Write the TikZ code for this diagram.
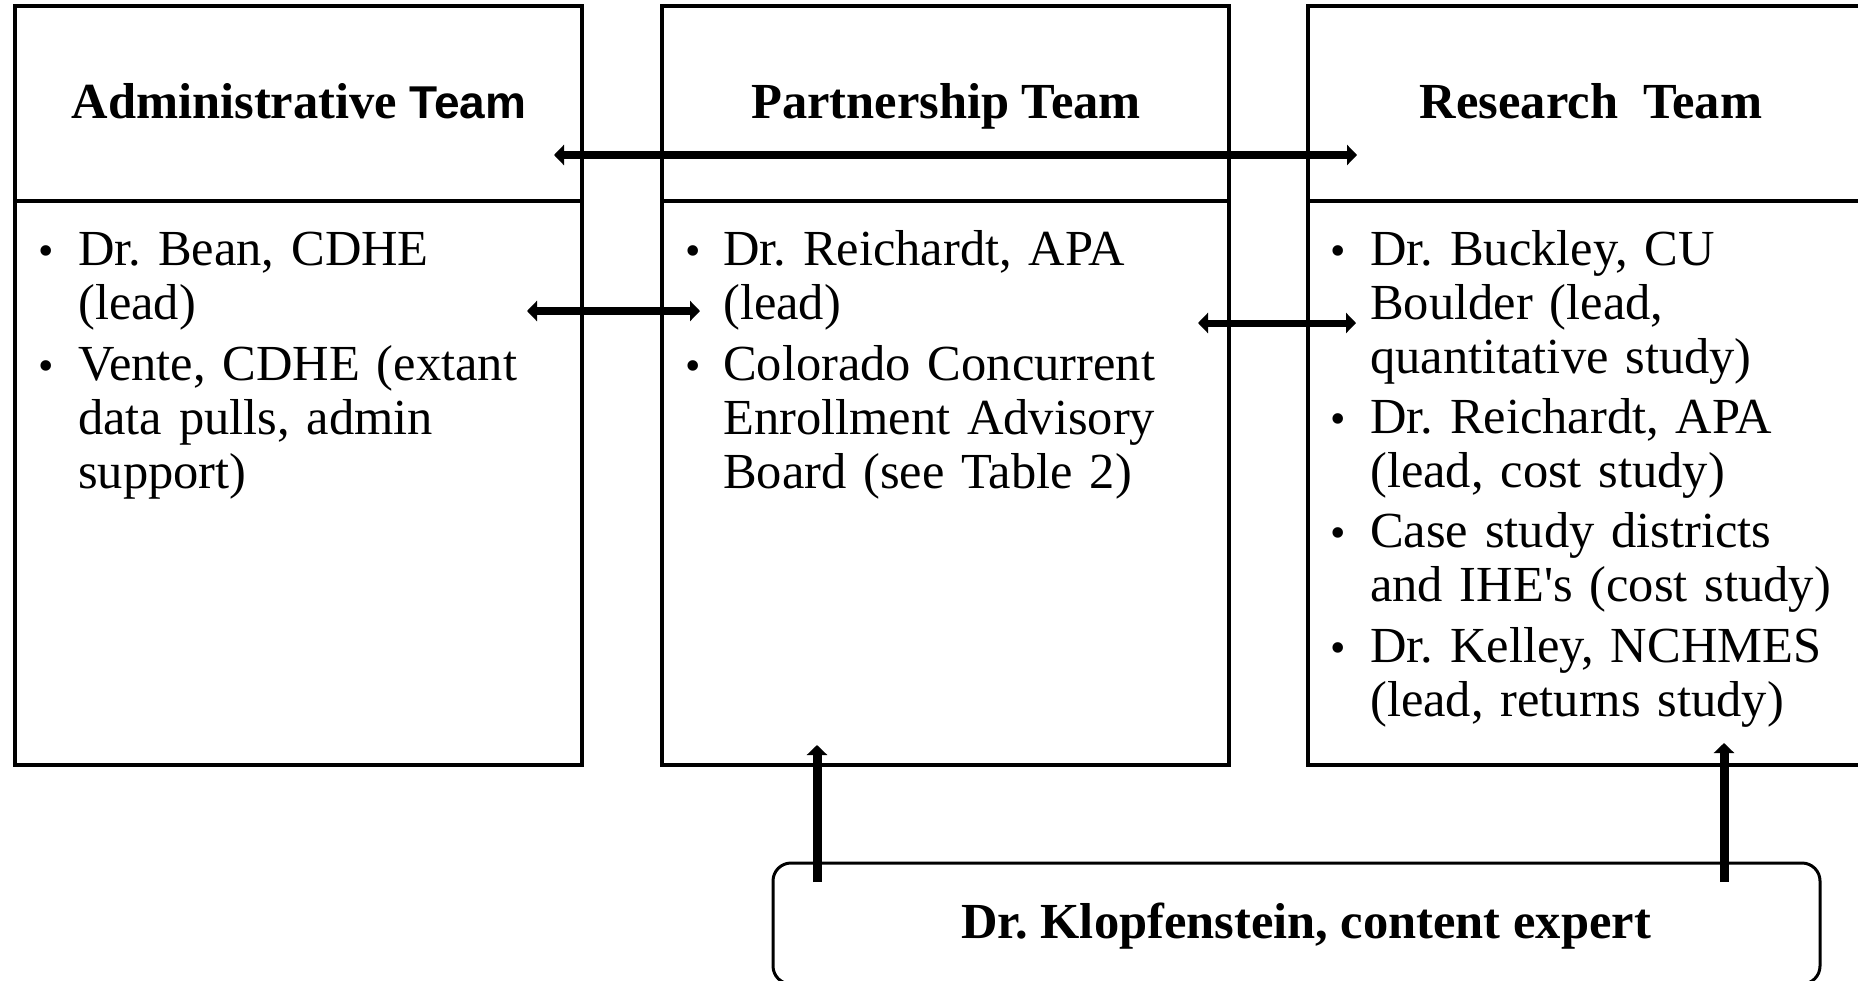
\documentclass[tikz,border=0pt]{standalone}
\usepackage{fontspec}
\setmainfont{Liberation Serif}
\newfontfamily\hsans{Liberation Sans}
\usetikzlibrary{arrows.meta}
\frenchspacing
\begin{document}
\begin{tikzpicture}[x=1pt,y=-1pt,
  hdr/.style={draw,line width=4.5pt,minimum width=567pt,minimum height=195pt,inner sep=0pt,outer sep=0pt,anchor=north west},
  bdy/.style={draw,line width=4.5pt,minimum width=567pt,minimum height=564pt,inner sep=0pt,outer sep=0pt,anchor=north west},
  ttl/.style={anchor=base,inner sep=0pt,font=\bfseries\fontsize{50.5}{54}\selectfont},
  itm/.style={anchor=base west,inner sep=0pt,text width=520pt,align=left,font=\frenchspacing\fontsize{50.5}{54}\selectfont},
  bul/.style={anchor=base,inner sep=0pt,font=\fontsize{44}{46}\selectfont},
  link/.style={line width=8pt,{Triangle[width=20pt,length=10pt]}-{Triangle[width=20pt,length=10pt]}},
  uplink/.style={line width=9pt,-{Triangle[width=20pt,length=10pt]}},
  expert/.style={draw,line width=3pt,rounded corners=18pt,minimum width=1047pt,minimum height=121pt,anchor=north west,inner sep=0pt,outer sep=0pt}]
\useasboundingbox (0,0) rectangle (1858,980);
\clip (0,0) rectangle (1858,980);

% boxes
\node[hdr] (admh) at (15,6) {};
\node[bdy] (admb) at (15,201) {};
\node[hdr] (parh) at (662,6) {};
\node[bdy] (parb) at (662,201) {};
\node[hdr] (resh) at (1308,6) {};
\node[bdy] (resb) at (1308,201) {};
\node[expert] (exp) at (773,863) {};

% titles
\node[ttl] (admt) at (299,118) {Administrative {\hsans\fontsize{46}{50}\selectfont Team}};
\node[ttl] (part) at (946,118) {Partnership Team};
\node[ttl] (rest) at (1591,118) {Research\ \ Team};
\node[ttl] (expt) at (1306,938) {Dr.\ Klopfenstein, content expert};

% administrative items
\node[bul] (ab1) at (46,265) {•};
\node[itm] (ai1) at (78,265) {Dr. Bean, CDHE\\(lead)};
\node[bul] (ab2) at (46,380) {•};
\node[itm] (ai2) at (78,380) {Vente, CDHE (extant\\data pulls, admin\\support)};

% partnership items
\node[bul] (pb1) at (693,265) {•};
\node[itm] (pi1) at (723,265) {Dr. Reichardt, APA\\(lead)};
\node[bul] (pb2) at (693,380) {•};
\node[itm] (pi2) at (723,380) {Colorado Concurrent\\Enrollment Advisory\\Board (see Table 2)};

% research items
\node[bul] (rb1) at (1338,265) {•};
\node[itm] (ri1) at (1370,265) {Dr. Buckley, CU\\Boulder (lead,\\quantitative study)};
\node[bul] (rb2) at (1338,433) {•};
\node[itm] (ri2) at (1370,433) {Dr. Reichardt, APA\\(lead, cost study)};
\node[bul] (rb3) at (1338,547) {•};
\node[itm] (ri3) at (1370,547) {Case study districts\\and IHE\textquotesingle s (cost study)};
\node[bul] (rb4) at (1338,662) {•};
\node[itm] (ri4) at (1370,662) {Dr. Kelley, NCHMES\\(lead, returns study)};

% connector end points
\coordinate (t1) at (554,155);
\coordinate (t2) at (1357,155);
\coordinate (m1) at (527,311);
\coordinate (m2) at (700,311);
\coordinate (r1) at (1198,323);
\coordinate (r2) at (1356,323);
\coordinate (v1a) at (817,882);
\coordinate (v1b) at (817,745);
\coordinate (v2a) at (1724,882);
\coordinate (v2b) at (1724,743);

\draw[link] (t1) -- (t2);
\draw[link] (m1) -- (m2);
\draw[link,line width=7pt] (r1) -- (r2);
\draw[uplink] (v1a) -- (v1b);
\draw[uplink] (v2a) -- (v2b);
\end{tikzpicture}
\end{document}
